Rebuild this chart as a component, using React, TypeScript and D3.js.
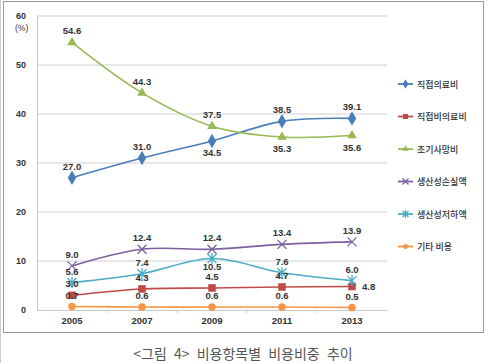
import React, { useEffect, useRef } from 'react';
import * as d3 from 'd3';

const years = ['2005', '2007', '2009', '2011', '2013'];
const yTicks = [0, 10, 20, 30, 40, 50, 60];

const directMedical = [27.0, 31.0, 34.5, 38.5, 39.1];
const directNonMedical = [3.0, 4.3, 4.5, 4.7, 4.8];
const earlyDeath = [54.6, 44.3, 37.5, 35.3, 35.6];
const productivityLoss = [9.0, 12.4, 12.4, 13.4, 13.9];
const productivityDrop = [5.6, 7.4, 10.5, 7.6, 6.0];
const otherCost = [0.7, 0.6, 0.6, 0.6, 0.5];

const seriesNames = ['직접의료비', '직접비의료비', '조기사망비', '생산성손실액', '생산성저하액', '기타 비용'];

// label placement per point: 'a' above, 'b' below, 'm' just below, 'r' right
const labelPos = [
  ['a', 'a', 'b', 'a', 'a'],
  ['a', 'a', 'a', 'a', 'r'],
  ['a', 'a', 'a', 'b', 'b'],
  ['a', 'a', 'a', 'a', 'a'],
  ['a', 'a', 'm', 'a', 'a'],
  ['a', 'a', 'a', 'a', 'a'],
];

const series = [
  { name: seriesNames[0], values: directMedical, color: '#4a7ebb', marker: 'diamond' },
  { name: seriesNames[1], values: directNonMedical, color: '#be4b48', marker: 'square' },
  { name: seriesNames[2], values: earlyDeath, color: '#98b954', marker: 'triangle' },
  { name: seriesNames[3], values: productivityLoss, color: '#7d60a0', marker: 'x' },
  { name: seriesNames[4], values: productivityDrop, color: '#4bacc6', marker: 'star' },
  { name: seriesNames[5], values: otherCost, color: '#f79646', marker: 'circle' },
];

function drawMarker(g: any, type: string, x: number, y: number, color: string, s: number) {
  if (type === 'x' || type === 'star') {
    const h = s / 2;
    let d = `M${x - h},${y - h}L${x + h},${y + h}M${x - h},${y + h}L${x + h},${y - h}`;
    if (type === 'star') d += `M${x},${y - h - 1}L${x},${y + h + 1}`;
    g.append('path').attr('d', d).attr('stroke', color).attr('stroke-width', 1.3).attr('fill', 'none');
    return;
  }
  const sym = {
    diamond: d3.symbolDiamond,
    square: d3.symbolSquare,
    triangle: d3.symbolTriangle,
    circle: d3.symbolCircle,
  }[type];
  const size = { diamond: s * s * 0.75, square: s * s * 0.7, triangle: s * s * 0.5, circle: s * s * 0.55 }[type];
  g.append('path')
    .attr('d', d3.symbol().type(sym).size(size)())
    .attr('transform', `translate(${x},${y})`)
    .attr('fill', color);
}

export default function App() {
  const ref = useRef<SVGSVGElement>(null);

  useEffect(() => {
    const svg = d3.select(ref.current);
    svg.selectAll('*').remove();

    const x = d3.scaleBand().domain(years).range([37, 387]);
    const y = d3.scaleLinear().domain([0, 60]).range([310, 16]);
    const cx = (d: string) => (x(d) as number) + x.bandwidth() / 2;

    // frame
    svg.append('line').attr('x1', 0.5).attr('x2', 0.5).attr('y1', 0).attr('y2', 363).attr('stroke', '#ccc');
    svg.append('rect')
      .attr('x', 3.5).attr('y', 1.5).attr('width', 480).attr('height', 331)
      .attr('fill', 'white').attr('stroke', '#999');

    // grid lines
    svg.append('g').selectAll('line')
      .data(yTicks.filter(t => t > 0))
      .join('line')
      .attr('x1', 37).attr('x2', 387)
      .attr('y1', d => y(d)).attr('y2', d => y(d))
      .attr('stroke', '#d0d0d0');

    const yAxis = svg.append('g')
      .attr('transform', 'translate(37,0)')
      .call(d3.axisLeft(y).tickValues(yTicks).tickSize(0).tickPadding(11));
    yAxis.select('.domain').attr('stroke', '#c8c8c8');
    yAxis.selectAll('text')
      .attr('font-family', 'Liberation Sans, Arial, sans-serif')
      .attr('font-size', 9).attr('font-weight', 'bold').attr('fill', '#333');

    const xAxis = svg.append('g')
      .attr('transform', 'translate(0,310)')
      .call(d3.axisBottom(x).tickSize(0).tickPadding(7));
    xAxis.select('.domain').attr('stroke', '#c8c8c8');
    xAxis.selectAll('text')
      .attr('font-family', 'Liberation Sans, Arial, sans-serif')
      .attr('font-size', 9.5).attr('font-weight', 'bold').attr('fill', '#333');
    // small ticks between categories
    svg.append('g').selectAll('line')
      .data(years.slice(1))
      .join('line')
      .attr('x1', d => x(d) as number).attr('x2', d => x(d) as number)
      .attr('y1', 310).attr('y2', 313)
      .attr('stroke', '#c8c8c8');

    svg.append('text')
      .attr('x', 15).attr('y', 31)
      .attr('font-family', 'Liberation Sans, Arial, sans-serif')
      .attr('font-size', 8.5).attr('fill', '#333')
      .text('(%)');

    const line = d3.line<number>()
      .x((d, i) => cx(years[i]))
      .y(d => y(d))
      .curve(d3.curveCatmullRom.alpha(0.5));

    const plot = svg.append('g');
    series.forEach(s => {
      plot.append('path')
        .attr('d', line(s.values))
        .attr('fill', 'none')
        .attr('stroke', s.color)
        .attr('stroke-width', 1.6);
    });
    series.forEach(s => {
      s.values.forEach((v, i) => drawMarker(plot, s.marker, cx(years[i]), y(v), s.color, 9));
    });

    // data labels
    const labels = svg.append('g')
      .attr('font-family', 'Liberation Sans, Arial, sans-serif')
      .attr('font-size', 9.5).attr('font-weight', 'bold').attr('fill', '#333');
    series.forEach((s, si) => {
      s.values.forEach((v, i) => {
        const p = labelPos[si][i];
        const px = cx(years[i]);
        const py = y(v);
        const ly = p === 'a' ? py - 8 : p === 'b' ? py + 15 : p === 'm' ? py + 11 : py + 3.5;
        labels.append('text')
          .attr('x', p === 'r' ? px + 10 : px)
          .attr('y', ly)
          .attr('text-anchor', p === 'r' ? 'start' : 'middle')
          .text(v.toFixed(1));
      });
    });

    // legend
    const legend = svg.append('g');
    series.forEach((s, i) => {
      const ly = 84 + i * 32.5;
      legend.append('line')
        .attr('x1', 398).attr('x2', 413).attr('y1', ly).attr('y2', ly)
        .attr('stroke', s.color).attr('stroke-width', 1.8);
      drawMarker(legend, s.marker, 405.5, ly, s.color, 6);
      legend.append('text')
        .attr('x', 417).attr('y', ly + 3.5)
        .attr('font-family', 'Noto Sans CJK KR, sans-serif')
        .attr('font-size', 9).attr('font-weight', 500).attr('fill', '#333')
        .text(s.name);
    });

    svg.append('text')
      .attr('x', 243).attr('y', 359)
      .attr('text-anchor', 'middle')
      .attr('font-family', 'Noto Sans CJK KR, sans-serif')
      .attr('font-size', 14).attr('fill', '#555')
      .attr('word-spacing', 4)
      .text('<그림 4> 비용항목별 비용비중 추이');
  }, []);

  return (
    <svg ref={ref} width={500} height={363}
      style={{ position: 'absolute', left: 0, top: 0, background: 'white' }} />
  );
}
